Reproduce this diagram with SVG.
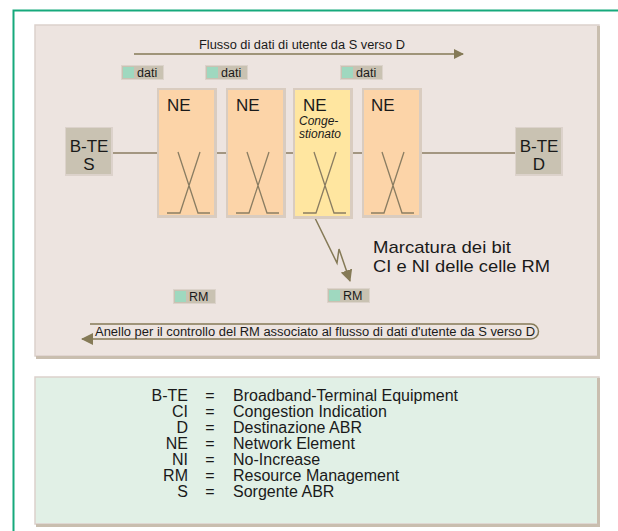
<svg xmlns="http://www.w3.org/2000/svg" width="618" height="531" viewBox="0 0 618 531">
<defs>
<style>
.t{font-family:"Liberation Sans",Arial,sans-serif;fill:#1a1a1a}
.ln{stroke:#8a7d62;stroke-width:1.3;fill:none}
.ar{stroke:#857a57;stroke-width:1.5;fill:none}
.ne{fill:#fcd4a8}
.bd{fill:#d9ccc0}
.tag{fill:#c9c2b2;stroke:#dcd3cb;stroke-width:1}
.sq{fill:#9fd8bf}
</style>
<marker id="ah" viewBox="0 0 10 10" refX="9" refY="5" markerWidth="10" markerHeight="10" markerUnits="userSpaceOnUse" orient="auto">
<path d="M0,0 L10,5 L0,10 Z" fill="#857a57"/>
</marker>
<marker id="ah2" viewBox="0 0 12 12" refX="11" refY="6" markerWidth="12" markerHeight="12" markerUnits="userSpaceOnUse" orient="auto">
<path d="M0,0 L12,6 L0,12 Z" fill="#857a57"/>
</marker>
</defs>
<rect width="618" height="531" fill="#ffffff"/>
<g id="frame">
<path d="M13.5,531 V10.5 H618" fill="none" stroke="#16a97c" stroke-width="2"/>
</g>
<g id="panel-top">
<rect x="35" y="25" width="564" height="331" fill="#ede4e0" stroke="#dcd1cc" stroke-width="1.5"/>
<path d="M598.5,26 V357.5 H36" fill="none" stroke="#c9beaf" stroke-width="3"/>
</g>
<g id="panel-legend">
<rect x="35" y="377" width="564" height="147" fill="#e1f0e6" stroke="#dcd1cc" stroke-width="1.5"/>
<path d="M598.5,378 V525.5 H36" fill="none" stroke="#c9beaf" stroke-width="3"/>
</g>
<g id="connectors">
<line class="ln" x1="113" y1="153" x2="515" y2="153"/>
<line class="ar" x1="134" y1="54" x2="463" y2="54" marker-end="url(#ah)"/>
<path class="ar" d="M314,216 L337,263 L339,249 L350,281" stroke-width="1.3" marker-end="url(#ah2)"/>
<path class="ar" d="M90,324 H531 A7.5,7.5 0 0 1 531,339 H82" stroke-width="1.3" marker-end="url(#ah2)"/>
</g>
<g id="label-flusso">
<text class="t" x="199" y="49" font-size="12.5" textLength="206" lengthAdjust="spacingAndGlyphs">Flusso di dati di utente da S verso D</text>
</g>
<g id="label-anello">
<text class="t" x="95" y="336" font-size="12" textLength="440" lengthAdjust="spacingAndGlyphs">Anello per il controllo del RM associato al flusso di dati d'utente da S verso D</text>
</g>
<g id="dati1"><rect class="tag" x="121.5" y="65.5" width="42" height="14"/><rect class="sq" x="123" y="67" width="11" height="11"/><text class="t" x="137" y="77" font-size="12.5">dati</text></g>
<g id="dati2"><rect class="tag" x="205.5" y="65.5" width="42" height="14"/><rect class="sq" x="207" y="67" width="11" height="11"/><text class="t" x="221" y="77" font-size="12.5">dati</text></g>
<g id="dati3"><rect class="tag" x="340.5" y="65.5" width="42" height="14"/><rect class="sq" x="342" y="67" width="11" height="11"/><text class="t" x="356" y="77" font-size="12.5">dati</text></g>
<g id="rm1"><rect class="tag" x="173.5" y="289.5" width="42" height="14"/><rect class="sq" x="175" y="291" width="11" height="11"/><text class="t" x="189" y="301" font-size="12.5">RM</text></g>
<g id="rm2"><rect class="tag" x="327.5" y="288.5" width="42" height="14"/><rect class="sq" x="329" y="290" width="11" height="11"/><text class="t" x="343" y="300" font-size="12.5">RM</text></g>
<g id="bte-s">
<rect x="65" y="127" width="48" height="49" fill="#dcd2cb"/>
<rect x="66" y="128" width="45" height="46" fill="#c9c2b2"/>
<text class="t" x="89" y="152" font-size="17" text-anchor="middle">B-TE</text>
<text class="t" x="89" y="170" font-size="17" text-anchor="middle">S</text>
</g>
<g id="bte-d">
<rect x="515" y="127" width="48" height="49" fill="#dcd2cb"/>
<rect x="516" y="128" width="45" height="46" fill="#c9c2b2"/>
<text class="t" x="539" y="152" font-size="17" text-anchor="middle">B-TE</text>
<text class="t" x="539" y="170" font-size="17" text-anchor="middle">D</text>
</g>
<g id="ne1">
<rect class="bd" x="157" y="88" width="60" height="130"/>
<rect class="ne" x="159" y="90" width="55" height="125"/>
<text class="t" x="167" y="111" font-size="17">NE</text>
<path class="ln" d="M178,152 L198,213 H210 M200,152 L180,213 H167"/>
</g>
<g id="ne2">
<rect class="bd" x="226" y="88" width="60" height="130"/>
<rect class="ne" x="228" y="90" width="55" height="125"/>
<text class="t" x="236" y="111" font-size="17">NE</text>
<path class="ln" d="M247,152 L267,213 H279 M269,152 L249,213 H236"/>
</g>
<g id="ne3">
<rect class="bd" x="293" y="88" width="60" height="131"/>
<rect x="295" y="90" width="55" height="126" fill="#ffe6a0"/>
<text class="t" x="303" y="111" font-size="17">NE</text>
<text class="t" x="299" y="125" font-size="12" font-style="italic">Conge-</text>
<text class="t" x="299" y="138" font-size="12" font-style="italic">stionato</text>
<path class="ln" d="M314,152 L334,213 H346 M336,152 L316,213 H303"/>
</g>
<g id="ne4">
<rect class="bd" x="362" y="88" width="60" height="130"/>
<rect class="ne" x="364" y="90" width="55" height="125"/>
<text class="t" x="371" y="111" font-size="17">NE</text>
<path class="ln" d="M382,152 L402,213 H414 M404,152 L384,213 H371"/>
</g>
<g id="label-marcatura">
<text class="t" x="373" y="253" font-size="17" textLength="138" lengthAdjust="spacingAndGlyphs">Marcatura dei bit</text>
<text class="t" x="373" y="272" font-size="17" textLength="177" lengthAdjust="spacingAndGlyphs">CI e NI delle celle RM</text>
</g>
<g id="legend" class="t" font-size="16">
<text x="188" y="401" text-anchor="end">B-TE</text><text x="210" y="401" text-anchor="middle">=</text><text x="233" y="401">Broadband-Terminal Equipment</text>
<text x="188" y="417" text-anchor="end">CI</text><text x="210" y="417" text-anchor="middle">=</text><text x="233" y="417">Congestion Indication</text>
<text x="188" y="433" text-anchor="end">D</text><text x="210" y="433" text-anchor="middle">=</text><text x="233" y="433">Destinazione ABR</text>
<text x="188" y="449" text-anchor="end">NE</text><text x="210" y="449" text-anchor="middle">=</text><text x="233" y="449">Network Element</text>
<text x="188" y="465" text-anchor="end">NI</text><text x="210" y="465" text-anchor="middle">=</text><text x="233" y="465">No-Increase</text>
<text x="188" y="481" text-anchor="end">RM</text><text x="210" y="481" text-anchor="middle">=</text><text x="233" y="481">Resource Management</text>
<text x="188" y="497" text-anchor="end">S</text><text x="210" y="497" text-anchor="middle">=</text><text x="233" y="497">Sorgente ABR</text>
</g>
</svg>
